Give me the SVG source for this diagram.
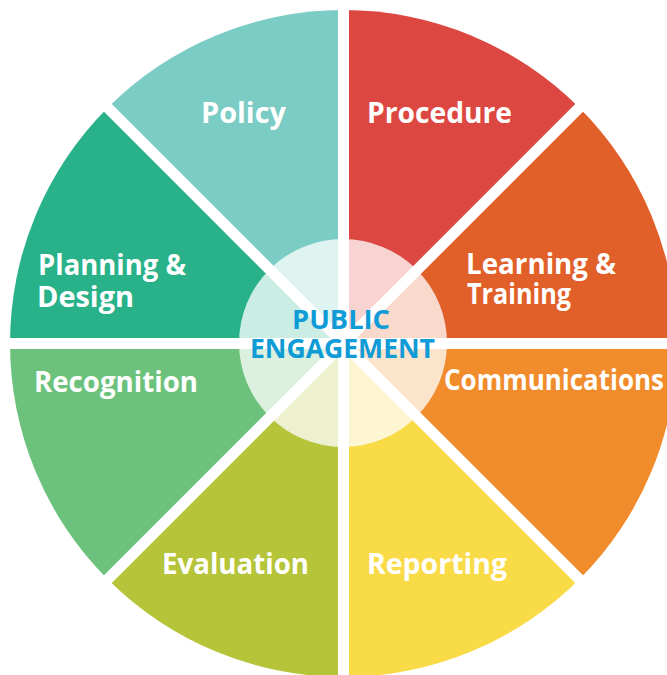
<svg xmlns="http://www.w3.org/2000/svg" width="667" height="675" viewBox="0 0 667 675">
<style>
.lbl{font-family:"Open Sans","Noto Sans","Liberation Sans",sans-serif;font-weight:700;font-size:29px;fill:#ffffff}
.ctr{font-family:"Open Sans","Noto Sans","Liberation Sans",sans-serif;font-weight:700;font-size:27px;fill:#0E9BD6}
.div{stroke:#ffffff;stroke-width:11;fill:none}
</style>
<rect width="667" height="675" fill="#ffffff"/>
<g id="procedure">
<path d="M343.5,343.5 L343.5,10 A333.5,333.5 0 0 1 579.32,107.68 Z" fill="#DC4741"/>
<text class="lbl" x="367" y="123" textLength="145" lengthAdjust="spacingAndGlyphs">Procedure</text>
</g>
<g id="learning-training">
<path d="M343.5,343.5 L579.32,107.68 A333.5,333.5 0 0 1 677,343.5 Z" fill="#E15F29"/>
<text class="lbl" x="466" y="274" textLength="150" lengthAdjust="spacingAndGlyphs">Learning &amp;</text>
<text class="lbl" x="467" y="304" textLength="104" lengthAdjust="spacingAndGlyphs">Training</text>
</g>
<g id="communications">
<path d="M343.5,343.5 L677,343.5 A333.5,333.5 0 0 1 579.32,579.32 Z" fill="#F18C2C"/>
</g>
<g id="reporting">
<path d="M343.5,343.5 L579.32,579.32 A333.5,333.5 0 0 1 343.5,677 Z" fill="#F9DA47"/>
<text class="lbl" x="367" y="574" textLength="140" lengthAdjust="spacingAndGlyphs">Reporting</text>
</g>
<g id="evaluation">
<path d="M343.5,343.5 L343.5,677 A333.5,333.5 0 0 1 107.68,579.32 Z" fill="#B5C438"/>
<text class="lbl" x="162" y="574" textLength="147" lengthAdjust="spacingAndGlyphs">Evaluation</text>
</g>
<g id="recognition">
<path d="M343.5,343.5 L107.68,579.32 A333.5,333.5 0 0 1 10,343.5 Z" fill="#6CC27C"/>
<text class="lbl" x="34" y="392" textLength="164" lengthAdjust="spacingAndGlyphs">Recognition</text>
</g>
<g id="planning-design">
<path d="M343.5,343.5 L10,343.5 A333.5,333.5 0 0 1 107.68,107.68 Z" fill="#29B28A"/>
<text class="lbl" x="38" y="275" textLength="148" lengthAdjust="spacingAndGlyphs">Planning &amp;</text>
<text class="lbl" x="37" y="307" textLength="97" lengthAdjust="spacingAndGlyphs">Design</text>
</g>
<g id="policy">
<path d="M343.5,343.5 L107.68,107.68 A333.5,333.5 0 0 1 343.5,10 Z" fill="#7BCCC4"/>
<text class="lbl" x="201" y="123" textLength="85" lengthAdjust="spacingAndGlyphs">Policy</text>
</g>
<g id="public-engagement">
<circle cx="343" cy="343" r="104" fill="#ffffff" fill-opacity="0.76"/>
</g>
<g id="dividers">
<line class="div" x1="343.5" y1="0" x2="343.5" y2="675"/>
<line class="div" x1="0" y1="343.5" x2="667" y2="343.5"/>
<line class="div" x1="0" y1="0" x2="687" y2="687"/>
<line class="div" x1="0" y1="687" x2="687" y2="0"/>
</g>
<g id="labels-top">
<text class="lbl" x="444" y="390" textLength="220" lengthAdjust="spacingAndGlyphs">Communications</text>
<text class="ctr" x="292" y="329" textLength="98" lengthAdjust="spacingAndGlyphs">PUBLIC</text>
<text class="ctr" x="250" y="358" textLength="185" lengthAdjust="spacingAndGlyphs">ENGAGEMENT</text>
</g>
</svg>
